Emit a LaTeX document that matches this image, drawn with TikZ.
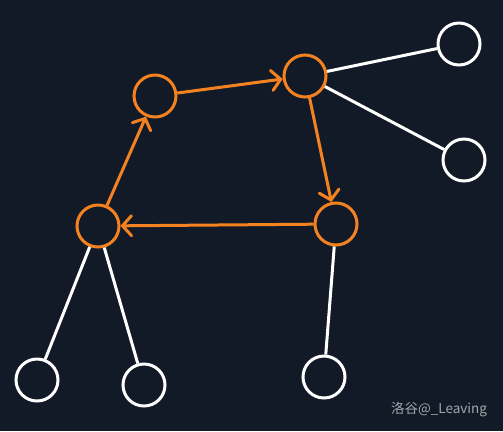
\documentclass[tikz,border=0pt]{standalone}
\usepackage{fontspec}
\newfontfamily\cjkfont{Noto Sans CJK SC}
\usetikzlibrary{arrows.meta}
\definecolor{bg}{HTML}{121A27}
\definecolor{org}{HTML}{F58220}
\definecolor{wm}{HTML}{A3A6AB}
\begin{document}
\begin{tikzpicture}[x=1bp,y=-1bp,
  vtx/.style={circle,draw,line width=3bp,minimum size=42bp,inner sep=0pt},
  ovtx/.style={vtx,draw=org},
  wvtx/.style={vtx,draw=white},
  oedge/.style={draw=org,line width=3bp,-{Straight Barb[length=9bp,width=20bp,line cap=round]}},
  wedge/.style={draw=white,line width=3bp}]
\fill[bg] (0,0) rectangle (503,431);
\useasboundingbox (0,0) rectangle (503,431);
\node[ovtx] (A) at (155,96) {};
\node[ovtx] (B) at (305,76) {};
\node[ovtx] (C) at (336,224) {};
\node[ovtx] (D) at (98,226) {};
\node[wvtx] (W1) at (459,44) {};
\node[wvtx] (W2) at (464,160) {};
\node[wvtx] (W3) at (37,380) {};
\node[wvtx] (W4) at (144,385) {};
\node[wvtx] (W5) at (324,377) {};
\draw[wedge] (B) -- (W1);
\draw[wedge] (B) -- (W2);
\draw[wedge] (D) -- (W3);
\draw[wedge] (D) -- (W4);
\draw[wedge] (C) -- (W5);
\draw[oedge] (D) -- (A);
\draw[oedge] (A) -- (B);
\draw[oedge] (B) -- (C);
\draw[oedge] (C) -- (D);
\node[text=wm,font=\cjkfont\fontsize{13.5bp}{15bp}\selectfont,anchor=center,inner sep=0pt] (wmk) at (439,409) {洛谷@\_Leaving};
\end{tikzpicture}
\end{document}
